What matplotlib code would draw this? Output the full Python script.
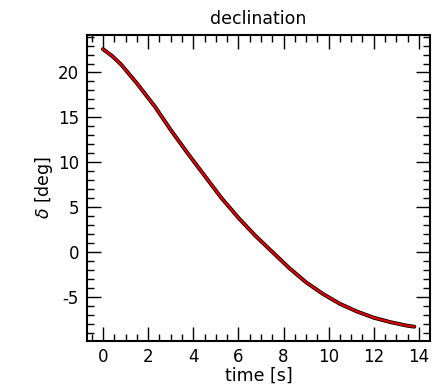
import matplotlib
matplotlib.use("Agg")
import matplotlib.pyplot as plt
from matplotlib.ticker import MultipleLocator

plt.rcParams['axes.unicode_minus'] = False
plt.rcParams['font.family'] = ['DejaVu Sans']

time_s = [0.0, 0.4, 0.8, 1.5, 2.3, 3.0, 3.75, 4.5, 5.25, 6.0, 6.75, 7.5, 8.25,
          9.0, 9.75, 10.5, 11.25, 12.0, 12.75, 13.5, 13.8]
dec_deg = [22.6, 21.85, 20.9, 18.8, 16.2, 13.6, 11.0, 8.5, 6.0, 3.8, 1.8, 0.0, -1.8,
           -3.4, -4.7, -5.8, -6.65, -7.35, -7.85, -8.25, -8.35]

title = "declination"
xlabel = "time [s]"
ylabel = r"$\delta$ [deg]"

fig = plt.figure(figsize=(4.46, 3.87), dpi=100)
ax = fig.add_axes([0.196, 0.119, 0.768, 0.791])

ax.plot(time_s, dec_deg, color='black', lw=2.8, solid_capstyle='round',
        solid_joinstyle='round')
ax.plot(time_s, dec_deg, color='#e00000', lw=1.6, solid_capstyle='round',
        solid_joinstyle='round')

ax.set_xlim(-0.69, 14.49)
ax.set_ylim(-9.94, 24.2)

ax.xaxis.set_major_locator(MultipleLocator(2))
ax.xaxis.set_minor_locator(MultipleLocator(0.5))
ax.yaxis.set_major_locator(MultipleLocator(5))
ax.yaxis.set_minor_locator(MultipleLocator(1))

ax.tick_params(which='both', direction='in', top=True, right=True, width=1.0,
               labelsize=12)
ax.tick_params(axis='x', pad=5)
ax.tick_params(axis='y', pad=6)
ax.tick_params(which='major', length=10)
ax.tick_params(which='minor', length=5)
for s in ax.spines.values():
    s.set_linewidth(1.5)

ax.set_title(title, fontsize=12.5, pad=8)
ax.set_xlabel(xlabel, fontsize=12.5, labelpad=0.5)
ax.set_ylabel(ylabel, fontsize=12.5, labelpad=2)

fig.savefig("out.png", dpi=100)
